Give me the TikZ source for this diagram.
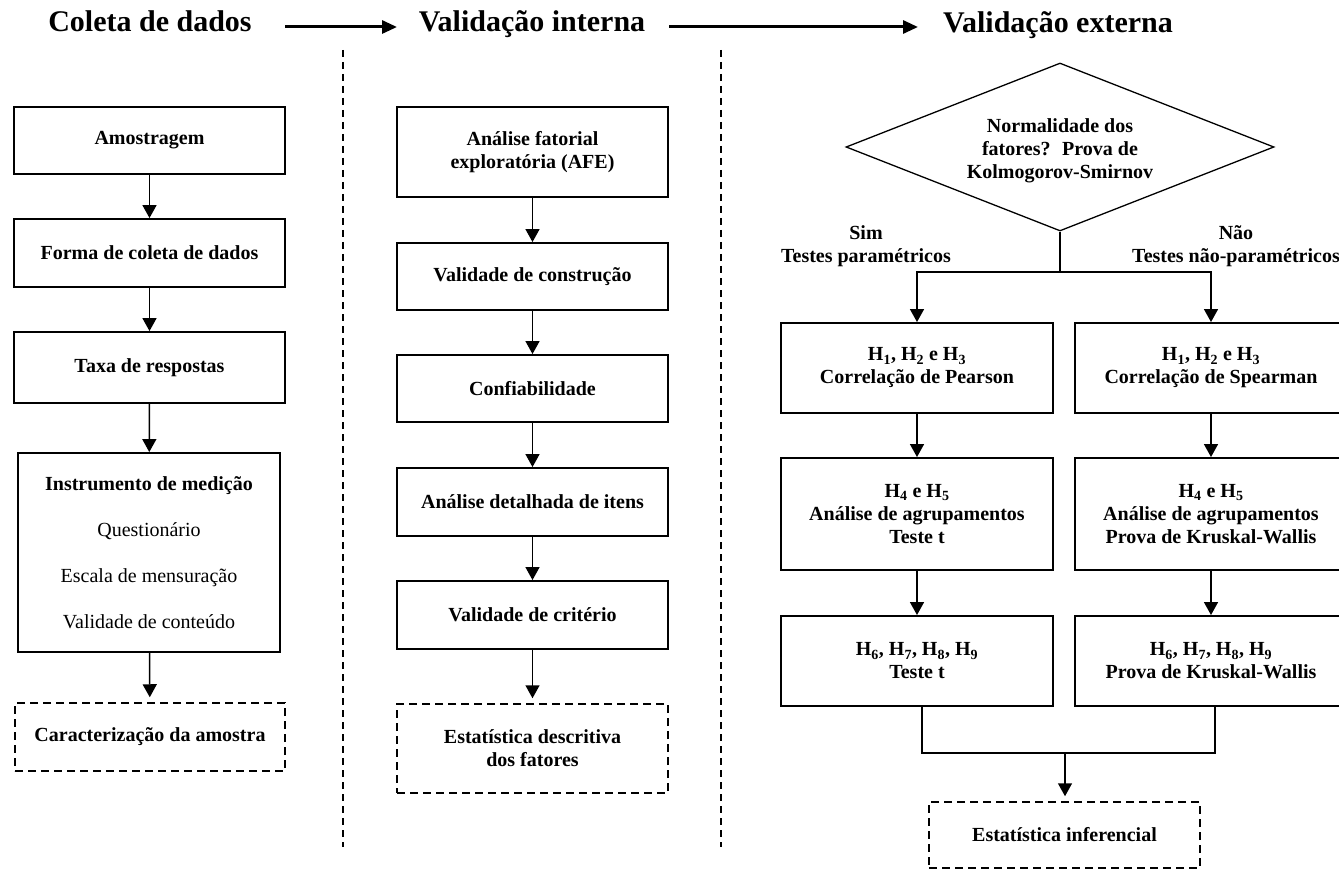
\documentclass[tikz,border=0pt]{standalone}
\usepackage{fontspec}
\setmainfont{Liberation Serif}
\usetikzlibrary{arrows.meta,shapes.geometric}

\begin{document}
\begin{tikzpicture}[x=1pt,y=-1pt,
  body/.style={font=\fontsize{20}{23}\selectfont\bfseries, align=center},
  stepbox/.style={body, draw, line width=1.9pt, minimum width=271pt, inner sep=0pt},
  resultbox/.style={stepbox, line width=1.5pt, dash pattern=on 8pt off 5pt},
  decision/.style={body, draw, diamond, shape aspect=2.55, line width=1.3pt,
    minimum width=428pt, minimum height=168pt, inner sep=0pt},
  branch/.style={body, inner sep=0pt},
  flow/.style={line width=1.5pt, -{Triangle[width=14pt,length=13pt]}},
  link/.style={line width=1.5pt},
  header/.style={font=\fontsize{30}{34}\selectfont\bfseries, anchor=base, inner sep=0pt},
  headarrow/.style={line width=3pt, -{Triangle[width=13pt,length=15pt]}},
  divider/.style={line width=1.4pt, dash pattern=on 7pt off 5pt},
]
\useasboundingbox (0,0) rectangle (1339,869);
\fill[white] (0,0) rectangle (1339,869);
\clip (0,0) rectangle (1339,869);

% ---- stage headers ----
\node[header] (hcol) at (150,32) {Coleta de dados};
\node[header] (hint) at (532,32) {Validação interna};
\node[header] (hext) at (1058,33) {Validação externa};
\coordinate (a1s) at (285,27);
\coordinate (a1e) at (397,27);
\coordinate (a2s) at (669,27);
\coordinate (a2e) at (918,27);
\draw[headarrow] (a1s) -- (a1e);
\draw[headarrow] (a2s) -- (a2e);

% ---- column dividers ----
\coordinate (d1t) at (343,50);
\coordinate (d1b) at (343,847);
\coordinate (d2t) at (721,50);
\coordinate (d2b) at (721,847);
\draw[divider] (d1t) -- (d1b);
\draw[divider] (d2t) -- (d2b);

% ---- data collection ----
\node[stepbox, minimum height=67pt] (amo) at (149.5,140.5) {Amostragem};
\node[stepbox, minimum height=68pt] (forma) at (149.5,253) {Forma de coleta de dados};
\node[stepbox, minimum height=71pt] (taxa) at (149.5,367.5) {Taxa de respostas};
\node[stepbox, minimum width=262pt, minimum height=199pt] (instr) at (149,552.5)
  {Instrumento de medição\\[23pt]{\mdseries Questionário}\\[23pt]{\mdseries Escala de mensuração}\\[23pt]{\mdseries Validade de conteúdo}};
\node[resultbox, minimum width=270pt, minimum height=68pt] (carac) at (150,737) {Caracterização da amostra};

\draw[flow] (amo) -- (forma);
\draw[flow] (forma) -- (taxa);
\draw[flow] (taxa) -- (instr);
\draw[flow, shorten >=5pt] (instr) -- (carac);

% ---- internal validation ----
\node[stepbox, minimum height=90pt] (afe) at (532.5,152) {Análise fatorial\\exploratória (AFE)};
\node[stepbox, minimum height=67pt] (vcon) at (532.5,276.5) {Validade de construção};
\node[stepbox, minimum height=67pt] (conf) at (532.5,388.5) {Confiabilidade};
\node[stepbox, minimum height=68pt] (adet) at (532.5,502) {Análise detalhada de itens};
\node[stepbox, minimum height=68pt] (vcri) at (532.5,615) {Validade de critério};
\node[resultbox, minimum height=89pt] (edes) at (532.5,748.5) {Estatística descritiva\\dos fatores};

\draw[flow] (afe) -- (vcon);
\draw[flow] (vcon) -- (conf);
\draw[flow] (conf) -- (adet);
\draw[flow] (adet) -- (vcri);
\draw[flow, shorten >=5pt] (vcri) -- (edes);

% ---- external validation ----
\node[decision] (norm) at (1060,147) {\rule{0pt}{22pt}Normalidade dos\\fatores?~ Prova de\\Kolmogorov-Smirnov};
\node[branch] (sim) at (866,246) {Sim\\Testes paramétricos};
\node[branch] (nao) at (1236,246) {Não\\Testes não-paramétricos};

\node[stepbox, minimum width=272pt, minimum height=90pt] (p1) at (917,368)
  {H\textsubscript{1}, H\textsubscript{2} e H\textsubscript{3}\\Correlação de Pearson};
\node[stepbox, minimum width=272pt, minimum height=90pt] (s1) at (1211,368)
  {H\textsubscript{1}, H\textsubscript{2} e H\textsubscript{3}\\Correlação de Spearman};
\node[stepbox, minimum width=272pt, minimum height=112pt] (p2) at (917,514)
  {H\textsubscript{4} e H\textsubscript{5}\\Análise de agrupamentos\\Teste t};
\node[stepbox, minimum width=272pt, minimum height=112pt] (s2) at (1211,514)
  {H\textsubscript{4} e H\textsubscript{5}\\Análise de agrupamentos\\Prova de Kruskal-Wallis};
\node[stepbox, minimum width=272pt, minimum height=90pt] (p3) at (917,661)
  {H\textsubscript{6}, H\textsubscript{7}, H\textsubscript{8}, H\textsubscript{9}\\Teste t};
\node[stepbox, minimum width=272pt, minimum height=90pt] (s3) at (1211,661)
  {H\textsubscript{6}, H\textsubscript{7}, H\textsubscript{8}, H\textsubscript{9}\\Prova de Kruskal-Wallis};
\node[resultbox, minimum width=271pt, minimum height=66pt] (einf) at (1064.5,835) {Estatística inferencial};

\coordinate (split) at (1060,272);
\draw[link] (norm.south) -- (split);
\draw[flow] (split) -| (p1.north);
\draw[flow] (split) -| (s1.north);
\draw[flow] (p1) -- (p2);
\draw[flow] (s1) -- (s2);
\draw[flow] (p2) -- (p3);
\draw[flow] (s2) -- (s3);

\coordinate (jl) at (922,753);
\coordinate (jr) at (1215,753);
\coordinate (jm) at (1065,753);
\draw[link] (p3.south -| jl) -- (jl) -- (jr) -- (s3.south -| jr);
\draw[flow, shorten >=5pt] (jm) -- (einf.north -| jm);
\end{tikzpicture}
\end{document}
